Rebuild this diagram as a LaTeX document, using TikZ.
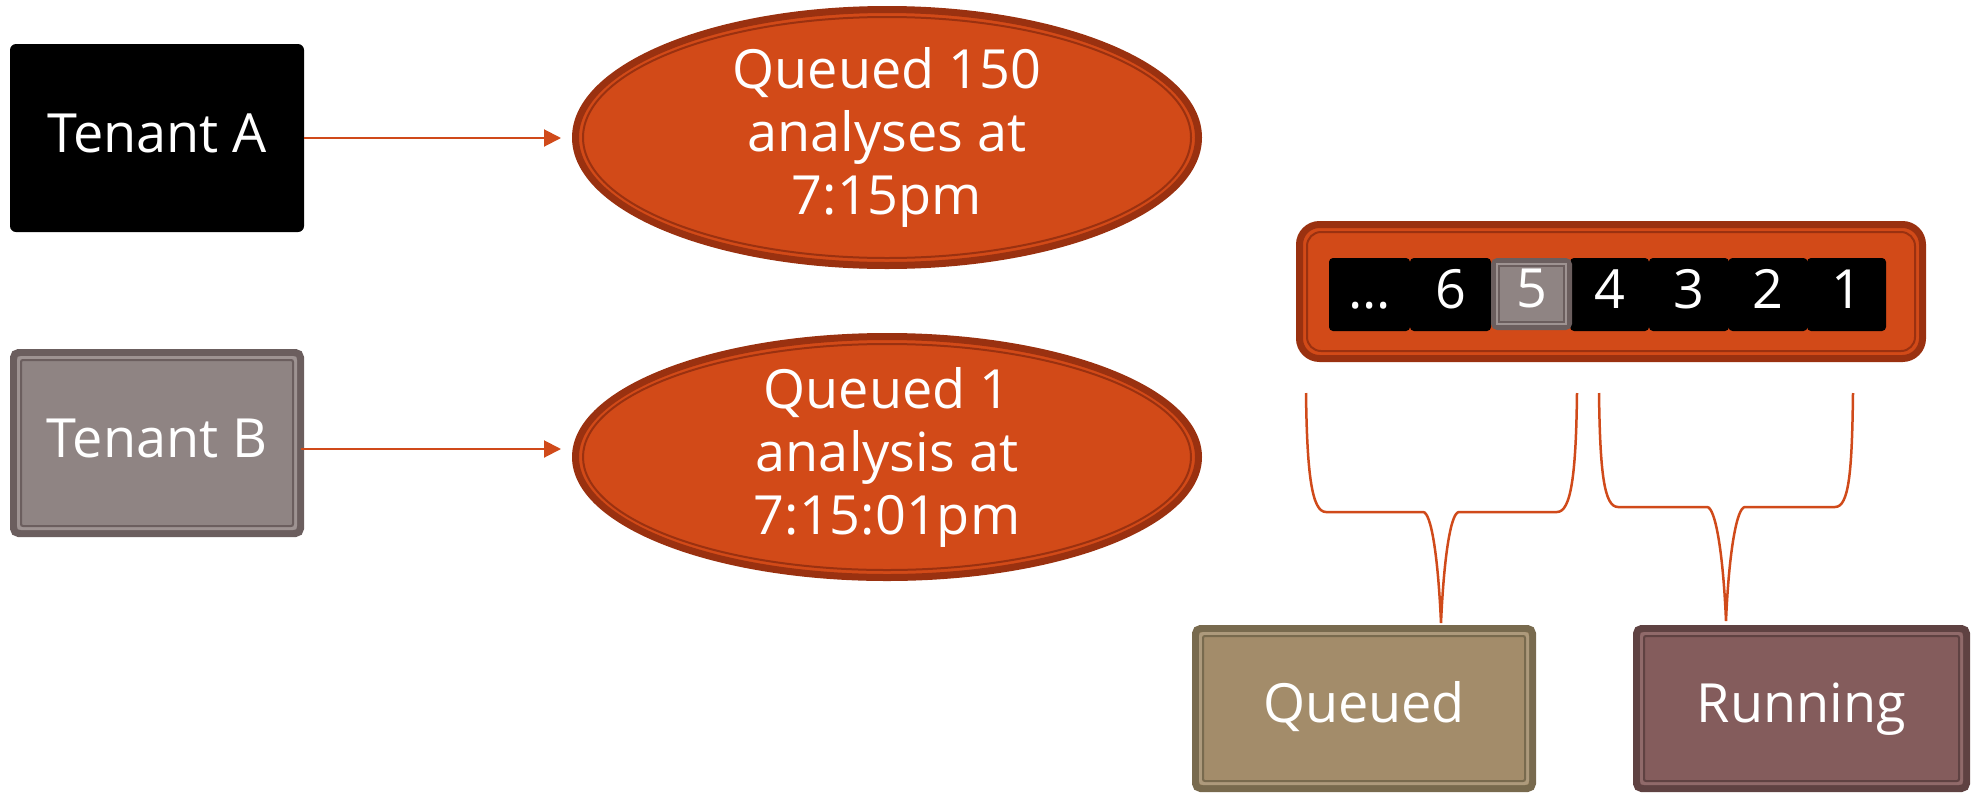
\documentclass[tikz,border=0pt]{standalone}
\usepackage{fontspec}
\setmainfont{Open Sans}
\usetikzlibrary{shapes.geometric,arrows.meta,calc}
\definecolor{orfill}{HTML}{D24A18}
\definecolor{ordark}{HTML}{9A3110}
\definecolor{orline}{HTML}{D04A1A}
\definecolor{tbfill}{HTML}{8F8483}
\definecolor{tbdark}{HTML}{6B5E5E}
\definecolor{tblight}{HTML}{9E9392}
\definecolor{qfill}{HTML}{A38C6A}
\definecolor{qdark}{HTML}{786A4E}
\definecolor{qlight}{HTML}{AD9A7C}
\definecolor{rfill}{HTML}{845C5C}
\definecolor{rdark}{HTML}{5F4242}
\definecolor{rlight}{HTML}{906A6A}
\newcommand\myframe[4]{%
  \draw[#2, line width=3pt, rounded corners=3pt] ([shift={(#4,#4)}]#1.north west) rectangle ([shift={(-#4,-#4)}]#1.south east);
  \draw[#3, line width=2pt, rounded corners=2pt] ([shift={(#4+2.5,#4+2.5)}]#1.north west) rectangle ([shift={(-#4-2.5,-#4-2.5)}]#1.south east);}
\begin{document}
\begin{tikzpicture}[x=1pt,y=-1pt,
  lbl/.style={font=\fontsize{54}{63}\selectfont, text=white, inner sep=0pt, outer sep=0pt, text height=38pt, text depth=10pt},
  box/.style={lbl, rectangle},
  oval/.style={ellipse, fill=orfill, draw=ordark, line width=7pt, minimum width=623pt, inner xsep=0pt, inner ysep=-12pt, outer sep=0pt,
     font=\fontsize{54}{63}\selectfont, text=white, align=center},
  cell/.style={lbl, fill=black, rounded corners=4pt, minimum width=81pt, minimum height=73pt, text depth=11pt},
  arr/.style={draw=orline, line width=2pt, -{Triangle[length=17pt,width=17pt]}, shorten >=14.5pt},
  brace/.style={draw=orline, line width=2.5pt}]
\useasboundingbox (0,0) rectangle (1971,793);

% tenants
\node[box, fill=black, minimum width=294pt, minimum height=188pt, rounded corners=6pt] (ta) at (157,138) {Tenant A};
\node[box, fill=tbfill, draw=tbdark, line width=7pt, minimum width=287pt, minimum height=181pt, rounded corners=5pt] (tb) at (157,443) {Tenant B};
\myframe{tb}{tblight}{tbdark}{5}

% ovals
\node[oval, minimum height=256pt] (e1) at (887,137.5) {Queued 150\\analyses at\\7:15pm};
\draw[ordark, line width=2pt] (e1.center) ellipse [x radius=304, y radius=120.5];
\node[oval, minimum height=241pt] (e2) at (887,457) {Queued 1\\analysis at\\7:15:01pm};
\draw[ordark, line width=2pt] (e2.center) ellipse [x radius=304, y radius=113];

% arrows
\draw[arr] (ta.east) -- (ta.east -| e1.west);
\draw[arr] ([yshift=-6pt]tb.east) -- ([yshift=-6pt]tb.east -| e2.west);

% queue bar
\node[fill=orfill, draw=ordark, line width=7pt, rounded corners=20pt, minimum width=623pt, minimum height=134pt, inner sep=0pt, outer sep=0pt] (qbar) at (1611,291.5) {};
\draw[ordark, line width=2pt, rounded corners=14pt] ([shift={(7.5,7.5)}]qbar.north west) rectangle ([shift={(-7.5,-7.5)}]qbar.south east);

\node[cell] (c7) at (1369.5,294.5) {…};
\node[cell] (c6) at (1450.5,294.5) {6};
\node[cell, minimum width=79pt] (c4) at (1609.5,294.5) {4};
\node[cell, minimum width=80pt] (c3) at (1689,294.5) {3};
\node[cell, minimum width=79pt] (c2) at (1768,294.5) {2};
\node[cell, minimum width=79pt] (c1) at (1846.5,294.5) {1};
\node[lbl, fill=tbfill, draw=tbdark, line width=5pt, rounded corners=4pt, minimum width=76pt, minimum height=67pt, text depth=11pt] (c5) at (1531.5,294) {5};
\draw[tblight, line width=2.5pt] ([shift={(3.5,3.5)}]c5.north west) rectangle ([shift={(-3.5,-3.5)}]c5.south east);
\draw[tbdark, line width=1.5pt] ([shift={(5.5,5.5)}]c5.north west) rectangle ([shift={(-5.5,-5.5)}]c5.south east);

% state boxes
\node[box, fill=qfill, draw=qdark, line width=7pt, minimum width=337pt, minimum height=160pt, rounded corners=5pt] (queued) at (1364,708.5) {Queued};
\myframe{queued}{qlight}{qdark}{5}
\node[box, fill=rfill, draw=rdark, line width=7pt, minimum width=330pt, minimum height=160pt, rounded corners=5pt] (running) at (1801.5,708.5) {Running};
\myframe{running}{rlight}{rdark}{5}

% braces
\coordinate (b1l) at (1306,393);
\coordinate (b1r) at (1577,393);
\coordinate (b1t) at (1441,623);
\coordinate (b2l) at (1599,393);
\coordinate (b2r) at (1853,393);
\coordinate (b2t) at (1726,621);
\draw[brace] (b1l) .. controls (1307,475) and (1312,512) .. (1326,512) -- (1423,512)
  .. controls (1431,512) and (1438,555) .. (b1t)
  .. controls (1444,555) and (1451,512) .. (1459,512) -- (1557,512)
  .. controls (1571,512) and (1576,475) .. (b1r);
\draw[brace] (b2l) .. controls (1600,472) and (1604,507) .. (1618,507) -- (1707,507)
  .. controls (1715,507) and (1723,550) .. (b2t)
  .. controls (1729,550) and (1737,507) .. (1745,507) -- (1835,507)
  .. controls (1849,507) and (1852,472) .. (b2r);
\end{tikzpicture}
\end{document}
